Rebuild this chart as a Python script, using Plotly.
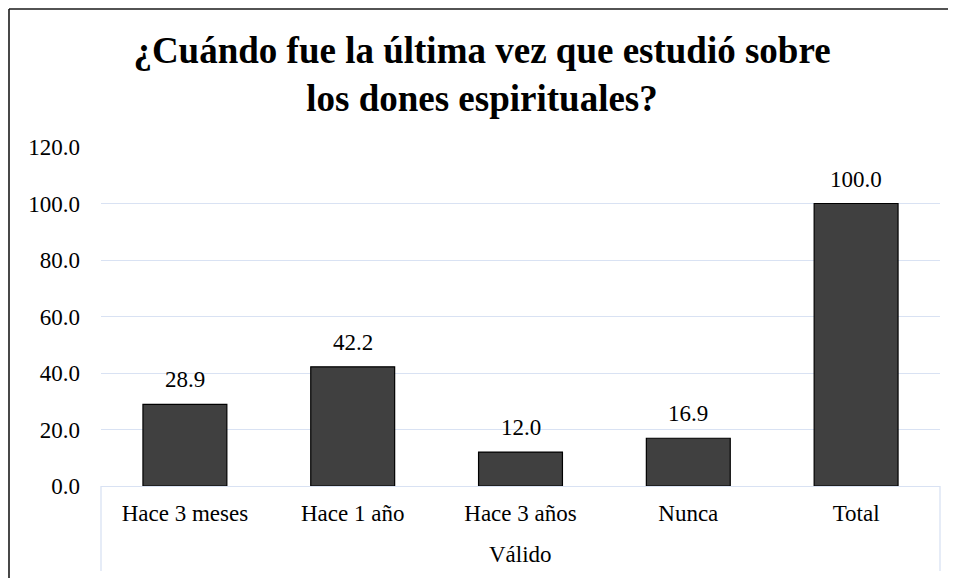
import plotly.graph_objects as go

categories = ["Hace 3 meses", "Hace 1 año", "Hace 3 años", "Nunca", "Total"]
values = [28.9, 42.2, 12.0, 16.9, 100.0]
group_label = "Válido"
title_text = "<b>¿Cuándo fue la última vez que estudió sobre<br>los dones espirituales?</b>"
y_ticks = [0, 20, 40, 60, 80, 100, 120]

# page has an 8px body margin, so the figure is drawn 8px smaller and offset
W, H = 948, 570
L, R, T, B = 93, 16, 139, 92
pw, ph = W - L - R, H - T - B

def px_x(p):
    return (p - L) / pw

def px_y(p):
    return (H - B - p) / ph

FONT = "Liberation Serif, Times New Roman, serif"
GRID = "#D9E2F3"
FS = 23

fig = go.Figure()
fig.add_trace(go.Bar(
    x=categories, y=values,
    marker=dict(color="#404040", line=dict(color="#000000", width=1.2)),
    width=0.5,
    hoverinfo="x+y",
))

for c, v in zip(categories, values):
    fig.add_annotation(x=c, y=v, text=f"{v:.1f}", showarrow=False,
                       xanchor="center", yanchor="bottom", yshift=10,
                       font=dict(family=FONT, size=FS, color="#000000"))

fig.update_layout(
    width=W, height=H,
    margin=dict(l=L, r=R, t=T, b=B, autoexpand=False),
    paper_bgcolor="white", plot_bgcolor="white",
    showlegend=False,
    font=dict(family=FONT, color="#000000", size=FS),
    title=dict(text=title_text, x=0.5, xanchor="center", y=1 - 55 / H, yanchor="top",
               font=dict(family=FONT, size=37, color="#000000")),
    yaxis=dict(range=[0, 120], tickvals=y_ticks, tickformat=".1f",
               showgrid=True, gridcolor=GRID, gridwidth=1.3, zeroline=False,
               showline=False, ticks="", ticklabelstandoff=20,
               tickfont=dict(family=FONT, size=FS, color="#000000")),
    xaxis=dict(showline=True, linecolor=GRID, linewidth=1.3, ticks="",
               ticklabelstandoff=6,
               tickfont=dict(family=FONT, size=FS, color="#000000")),
)

shapes = []
for xp in (0.0, 1.0):
    shapes.append(dict(type="line", xref="paper", yref="paper",
                       x0=xp, x1=xp, y0=0, y1=px_y(563),
                       line=dict(color=GRID, width=1.3)))
# chart border (cropped at right and bottom)
shapes.append(dict(type="line", xref="paper", yref="paper",
                   x0=px_x(1), x1=px_x(1), y0=px_y(1), y1=px_y(620),
                   line=dict(color="#1a1a1a", width=1.6)))
shapes.append(dict(type="line", xref="paper", yref="paper",
                   x0=px_x(1), x1=px_x(1000), y0=px_y(1), y1=px_y(1),
                   line=dict(color="#1a1a1a", width=1.6)))
fig.update_layout(shapes=shapes)

fig.add_annotation(text=group_label, xref="paper", yref="paper",
                   x=0.5, y=px_y(546), xanchor="center", yanchor="middle",
                   showarrow=False, font=dict(family=FONT, size=FS, color="#000000"))

fig.write_html("out.html")
